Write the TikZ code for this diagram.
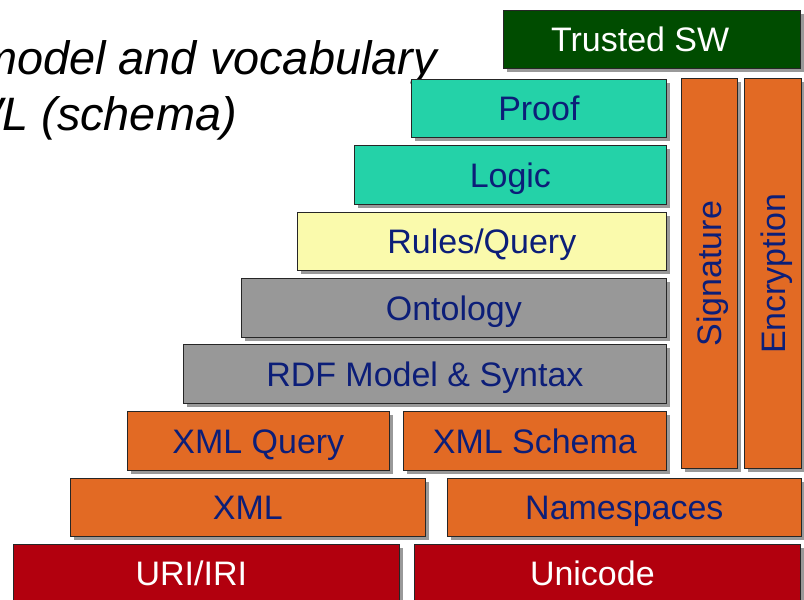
\documentclass[tikz,border=0pt]{standalone}
\usepackage{fontspec}
\setmainfont{Liberation Sans}
\usepackage{tikz}
\usetikzlibrary{positioning, shadows}

\definecolor{trustgreen}{RGB}{0,76,0}
\definecolor{logicteal}{RGB}{36,210,168}
\definecolor{rulesyellow}{RGB}{250,250,172}
\definecolor{rdfgray}{RGB}{152,152,152}
\definecolor{xmlorange}{RGB}{226,106,36}
\definecolor{baseRed}{RGB}{178,0,14}
\definecolor{labelblue}{RGB}{12,30,120}

\begin{document}
\begin{tikzpicture}[
        x=0.03cm, y=-0.03cm,
        layer/.style={
            draw=black!85,
            line width=0.6pt,
            anchor=north west,
            minimum height=1.74cm,
            inner sep=0pt,
            text height=21pt,
            text depth=0pt,
            font=\fontsize{29}{29}\selectfont,
            text=labelblue,
            drop shadow={shadow xshift=0.1cm, shadow yshift=-0.1cm,
                         fill=black, opacity=0.4}
        },
        column/.style={
            layer,
            rotate=90,
            anchor=north west,
            minimum width=11.7cm
        },
        heading/.style={
            anchor=base east,
            inner sep=0pt,
            font=\fontsize{40}{40}\selectfont\itshape
        }
    ]
        \useasboundingbox (0,0) rectangle (804,600);
        \clip (0,0) rectangle (804,600);

        % Ueberschrift (links abgeschnitten)
        \node[heading] (headone) at (437,75) {model and vocabulary};
        \node[heading] (headtwo) at (237,131) {OWL (schema)};

        % oberste Schicht
        \node[layer, fill=trustgreen, text=white, minimum width=8.91cm] (trusted) at (503,10) {Trusted SW\rule{0.7cm}{0pt}};

        % Stufen
        \node[layer, fill=logicteal, minimum width=7.65cm] (proof) at (411,79) {Proof};
        \node[layer, fill=logicteal, minimum width=9.36cm, minimum height=1.77cm] (logic) at (354,145) {Logic};
        \node[layer, fill=rulesyellow, minimum width=11.07cm] (rules) at (297,212) {Rules/Query};
        \node[layer, fill=rdfgray, minimum width=12.75cm, minimum height=1.77cm] (ontology) at (241,278) {Ontology};
        \node[layer, fill=rdfgray, minimum width=14.49cm, minimum height=1.77cm] (rdf) at (183,344) {RDF Model \& Syntax};

        % XML
        \node[layer, fill=xmlorange, minimum width=7.86cm, minimum height=1.77cm] (xmlquery) at (127,411) {XML Query};
        \node[layer, fill=xmlorange, minimum width=7.89cm, minimum height=1.77cm] (xmlschema) at (403,411) {XML Schema};
        \node[layer, fill=xmlorange, minimum width=10.65cm] (xml) at (70,478) {XML};
        \node[layer, fill=xmlorange, minimum width=10.62cm] (namespaces) at (447,478) {Namespaces};

        % Basis
        \node[layer, fill=baseRed, text=white, minimum width=11.58cm] (uri) at (13,544) {URI/IRI\rule{0.9cm}{0pt}};
        \node[layer, fill=baseRed, text=white, minimum width=11.58cm] (unicode) at (414,544) {Unicode\rule{0.9cm}{0pt}};

        % senkrechte Saeulen
        \node[column, fill=xmlorange, minimum height=1.68cm] (signature) at (681,469) {Signature};
        \node[column, fill=xmlorange, minimum height=1.71cm] (encryption) at (744,469) {Encryption};
    \end{tikzpicture}
\end{document}
